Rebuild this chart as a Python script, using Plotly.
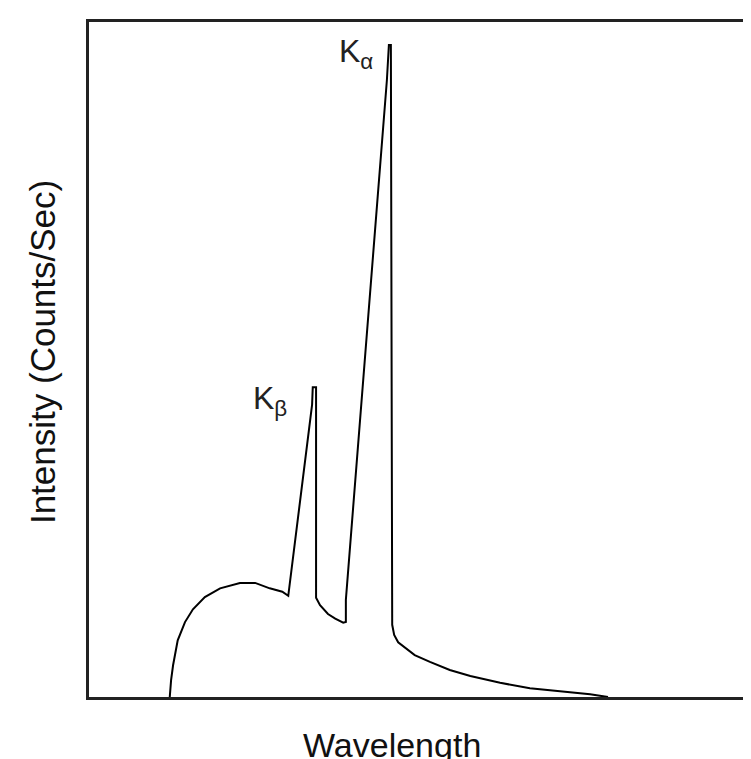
import plotly.graph_objects as go

# Spectrum trace (arbitrary units: wavelength 0-100, intensity 0-100)
wavelength = [12.2, 12.4, 12.7, 13.4, 14.5, 15.7, 17.5, 19.8, 22.8, 25.1, 27.3, 29.2, 30.1,
              33.7, 33.8, 34.3, 34.3, 34.9, 36.1, 37.2, 38.4, 38.8, 38.8,
              45.0, 45.3, 45.6, 45.8, 46.1, 46.7, 47.7, 49.2, 51.5, 54.5, 57.6,
              62.1, 66.6, 71.1, 75.7, 78.4]
intensity = [0.0, 2.5, 4.7, 8.4, 11.1, 13.0, 14.8, 16.1, 16.9, 16.9, 16.1, 15.6, 15.0,
             43.3, 45.9, 45.9, 14.7, 13.6, 12.3, 11.6, 11.0, 11.1, 14.4,
             91.4, 96.6, 96.6, 10.7, 9.2, 8.1, 7.3, 6.2, 5.2, 4.0, 3.1,
             2.1, 1.3, 0.9, 0.4, 0.0]

peak_labels = ["K<sub>α</sub>", "K<sub>β</sub>"]
peak_x = [37.5, 24.5]
peak_y = [95.3, 44.0]

FONT = "Liberation Sans, Arial, sans-serif"

fig = go.Figure()
fig.add_trace(go.Scatter(x=wavelength, y=intensity, mode="lines",
                         line=dict(color="black", width=2), showlegend=False,
                         hoverinfo="skip"))

for t, x, y in zip(peak_labels, peak_x, peak_y):
    fig.add_annotation(x=x, y=y, text=t, showarrow=False, xref="x", yref="y",
                       xanchor="left", yanchor="middle",
                       font=dict(family=FONT, size=32, color="#222"))

fig.add_annotation(x=0.458, y=-0.071, xref="paper", yref="paper", text="Wavelength",
                   showarrow=False, yanchor="middle", xanchor="center",
                   font=dict(family=FONT, size=34, color="#111"))
fig.add_annotation(x=-0.071, y=0.511, xref="paper", yref="paper",
                   text="Intensity (Counts/Sec)", textangle=-90, showarrow=False,
                   xanchor="center", yanchor="middle",
                   font=dict(family=FONT, size=35, color="#111"))

fig.update_xaxes(range=[0, 100], showgrid=False, zeroline=False, showticklabels=False,
                 ticks="", showline=True, linecolor="#222", linewidth=3, mirror=True)
fig.update_yaxes(range=[0, 100], showgrid=False, zeroline=False, showticklabels=False,
                 ticks="", showline=True, linecolor="#222", linewidth=3, mirror=False)

fig.update_layout(width=751, height=759, margin=dict(l=81, r=8, t=14, b=70),
                  plot_bgcolor="white", paper_bgcolor="white")

fig.write_html("out.html")
